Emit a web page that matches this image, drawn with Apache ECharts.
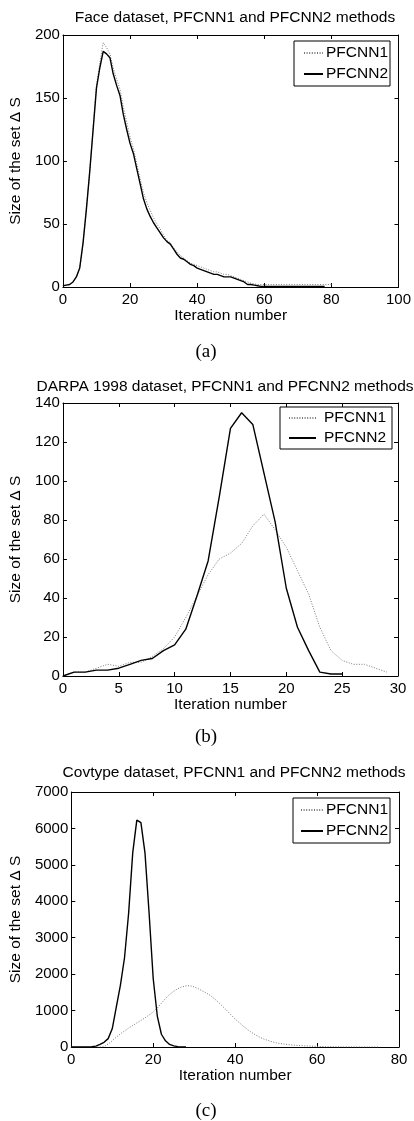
<!DOCTYPE html>
<html lang="en">

<head>
    <meta charset="UTF-8">
    <title>PFCNN iterations</title>
    <script src="https://cdn.jsdelivr.net/npm/echarts@6/dist/echarts.min.js"></script>
    <style>
        html,
        body {
            margin: 0;
            padding: 0;
            background: #fff;
        }

        #main {
            width: 414px;
            height: 1121px;
        }
    </style>
</head>

<body>
    <div id="main"></div>
    <script type="text/javascript">
        // values read per iteration (x = iteration index)
        var faceP1 = [1, 1.5, 2, 4, 8, 15, 35, 62, 92, 126, 160, 178, 194, 190, 185, 174, 165, 157, 143, 131,
            119, 110, 98, 86, 75, 67, 61, 55, 50, 46, 41, 37, 35, 31, 28, 25, 23, 21, 19, 18,
            17, 16, 15, 14, 13, 12, 12, 11, 10, 10, 9, 8, 7, 6, 5, 4, 3, 2.5, 2, 2,
            2, 2, 2, 2, 2, 2, 2, 2, 2, 2, 2, 2, 2, 2, 2, 2, 2, 2, 2, 2, 2];
        var faceP2 = [1, 1.5, 2, 4, 8, 15, 35, 62, 92, 125, 158, 174, 187, 185, 182, 169, 160, 152, 137, 125,
            114, 106, 94, 82, 70, 62, 56, 51, 47, 43, 39, 36, 34, 30, 26, 23, 22, 20, 18, 17,
            15, 14, 13, 12, 11, 10, 10, 9, 8, 8, 8, 7, 6, 5, 4, 2, 2, 1.5, 1, 0.5,
            0.5, 0.5, 0.5, 0.5, 0.5, 0.5, 0.5, 0.5, 0.5, 0.5, 0.5, 0.5, 0.5, 0.5, 0.5, 0.5, 0.5, 0.5, 0.5];

        var darpaP1 = [0, 2, 2, 4, 6, 5, 7, 7, 10, 14, 20, 30, 41, 52, 60, 63, 68, 77, 83, 75,
            66, 54, 42, 25, 13, 8, 6, 6, 4, 2];
        var darpaP2 = [0, 2, 2, 3, 3, 4, 6, 8, 9, 13, 16, 24, 41, 59, 92, 127, 135, 129, 104, 79,
            45, 25, 13, 2, 1, 1];

        var covP1 = [0, 0, 0, 0, 0, 0, 0, 0, 10, 80, 170, 270, 360, 440, 520, 590, 660, 730, 800, 880,
            960, 1070, 1200, 1330, 1440, 1530, 1600, 1650, 1680, 1680, 1650, 1600, 1540, 1480, 1410, 1320, 1220, 1110, 1000, 880,
            770, 670, 570, 480, 400, 330, 270, 220, 180, 145, 115, 95, 80, 65, 55, 45, 38, 32, 27, 22,
            18, 14, 11, 9, 7, 5, 4, 3, 2, 1, 0, 0, 0, 0, 0, 0];
        var covP2 = [0, 0, 0, 0, 0, 8, 25, 75, 130, 230, 500, 1100, 1700, 2450, 3670, 5330, 6230, 6160, 5320, 3670,
            1880, 850, 350, 170, 70, 30, 10, 3, 0];

        var titles = ['Face dataset, PFCNN1 and PFCNN2 methods',
            'DARPA 1998 dataset, PFCNN1 and PFCNN2 methods',
            'Covtype dataset, PFCNN1 and PFCNN2 methods'];
        var captions = ['(a)', '(b)', '(c)'];
        var xMax = [100, 30, 80];
        var xStep = [20, 5, 20];
        var yMax = [200, 140, 7000];
        var yStep = [50, 20, 1000];

        // plot boxes
        var boxes = [
            { left: 60, top: 35, width: 339, height: 252, titleX: 235, titleY: 18, capY: 352, yGap: 36, xGap: 21 },
            { left: 52, top: 403, width: 346, height: 273, titleX: 225, titleY: 387, capY: 737, yGap: 29, xGap: 19 },
            { left: 69, top: 792, width: 330, height: 255, titleX: 234, titleY: 773, capY: 1111, yGap: 44, xGap: 21 }
        ];
        var legends = [
            { left: 294, top: 41, padding: [4, 2, 4, 9], itemWidth: 19, gap: 3, rowGap: 5 },
            { left: 280, top: 407, padding: [3, 6, 3, 8], itemWidth: 27, gap: 8, rowGap: 4 },
            { left: 293, top: 798, padding: [4, 2, 4, 7], itemWidth: 22, gap: 3, rowGap: 5 }
        ];

        function pairs(arr) {
            var out = [];
            for (var i = 0; i < arr.length; i++) out.push([i, arr[i]]);
            return out;
        }

        var font = 'Liberation Sans';
        var sets = [[faceP1, faceP2], [darpaP1, darpaP2], [covP1, covP2]];

        var grid = [], xAxis = [], yAxis = [], series = [], legend = [], graphic = [];

        boxes.forEach(function(b, i) {
            grid.push({ left: b.left, top: b.top, width: b.width, height: b.height });

            var tick = { show: true, inside: true, length: 4, lineStyle: { color: '#000', width: 1 } };
            var line = { show: true, onZero: false, lineStyle: { color: '#000', width: 1 } };
            var plain = function(v) { return String(v); };

            xAxis.push({
                type: 'value', gridIndex: i, min: 0, max: xMax[i], interval: xStep[i],
                axisLine: line, axisTick: tick, splitLine: { show: false },
                axisLabel: { color: '#000', fontSize: 15, fontFamily: font, margin: 5, formatter: plain },
                name: 'Iteration number', nameLocation: 'middle', nameGap: b.xGap,
                nameTextStyle: { color: '#000', fontSize: 15.5, fontFamily: font }
            });
            xAxis.push({
                type: 'value', gridIndex: i, position: 'top', min: 0, max: xMax[i], interval: xStep[i],
                axisLine: line, axisTick: tick, splitLine: { show: false }, axisLabel: { show: false }
            });
            yAxis.push({
                type: 'value', gridIndex: i, min: 0, max: yMax[i], interval: yStep[i],
                axisLine: line, axisTick: tick, splitLine: { show: false },
                axisLabel: { color: '#000', fontSize: 15, fontFamily: font, margin: 3, formatter: plain },
                name: 'Size of the set \u0394 S', nameLocation: 'middle', nameGap: b.yGap,
                nameTextStyle: { color: '#000', fontSize: 15.5, fontFamily: font }
            });
            yAxis.push({
                type: 'value', gridIndex: i, position: 'right', min: 0, max: yMax[i], interval: yStep[i],
                axisLine: line, axisTick: tick, splitLine: { show: false }, axisLabel: { show: false }
            });

            series.push({
                name: 'PFCNN1', type: 'line', xAxisIndex: 2 * i, yAxisIndex: 2 * i,
                data: pairs(sets[i][0]), symbol: 'none',
                lineStyle: { color: '#777', width: 1, type: [1, 1.6] }, itemStyle: { color: '#777' }
            });
            series.push({
                name: 'PFCNN2', type: 'line', xAxisIndex: 2 * i, yAxisIndex: 2 * i,
                data: pairs(sets[i][1]), symbol: 'none',
                lineStyle: { color: '#000', width: 1.4 }, itemStyle: { color: '#000' }
            });

            var lg = legends[i];
            legend.push({
                data: ['PFCNN1', 'PFCNN2'], orient: 'vertical', left: lg.left, top: lg.top,
                padding: lg.padding, itemWidth: lg.itemWidth, itemHeight: 14, itemGap: lg.rowGap,
                selectedMode: false, borderColor: '#000', borderWidth: 1, backgroundColor: '#fff',
                itemStyle: { color: 'rgba(0,0,0,0)', borderWidth: 0, opacity: 0 },
                textStyle: { color: '#000', fontSize: 15.5, fontFamily: font, padding: [0, 0, 0, lg.gap - 5] }
            });

            graphic.push({
                type: 'text', x: b.titleX, y: b.titleY,
                style: { text: titles[i], fill: '#000', font: '15.5px "Liberation Sans"', align: 'center', verticalAlign: 'middle' }
            });
            graphic.push({
                type: 'text', x: 206, y: b.capY,
                style: { text: captions[i], fill: '#000', font: '19px "Liberation Serif"', align: 'center', verticalAlign: 'middle' }
            });
        });

        var myChart = echarts.init(document.getElementById('main'));
        myChart.setOption({
            animation: false,
            backgroundColor: '#fff',
            grid: grid,
            xAxis: xAxis,
            yAxis: yAxis,
            legend: legend,
            graphic: graphic,
            series: series
        });
    </script>
</body>

</html>
